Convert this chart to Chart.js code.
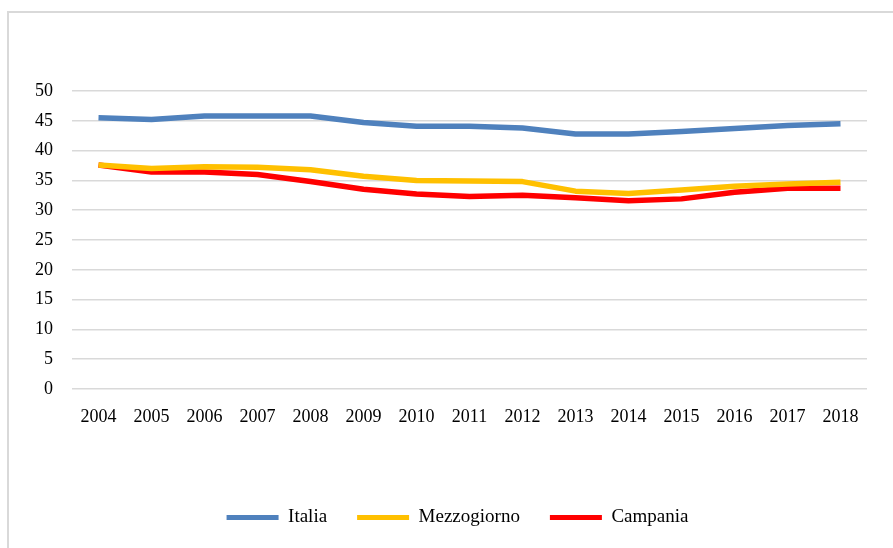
<!DOCTYPE html>
<html>
<head>
<meta charset="utf-8">
<script src="https://cdn.jsdelivr.net/npm/chart.js@4/dist/chart.umd.min.js"></script>
<style>
  html, body { margin: 0; padding: 0; background: #fff; overflow: hidden; }
  #wrap { position: relative; width: 893px; height: 548px; }
  /* cornice grigia del grafico (esce a destra e in basso) */
  #frame {
    position: absolute; left: 7px; top: 11px; width: 1000px; height: 1000px;
    border: 2px solid #D9D9D9; box-sizing: border-box;
  }
  #chart { position: absolute; left: 0; top: 0; }
</style>
</head>
<body>
<div id="wrap">
  <div id="frame"></div>
  <canvas id="chart" width="893" height="548"></canvas>
</div>
<script>
// anni e serie
const anni = ['2004','2005','2006','2007','2008','2009','2010','2011','2012','2013','2014','2015','2016','2017','2018'];
const italia      = [45.5, 45.2, 45.8, 45.8, 45.8, 44.7, 44.1, 44.1, 43.8, 42.8, 42.8, 43.2, 43.7, 44.2, 44.5];
const mezzogiorno = [37.6, 37.0, 37.3, 37.2, 36.8, 35.7, 35.0, 34.9, 34.8, 33.2, 32.8, 33.4, 34.0, 34.4, 34.7];
const campania    = [37.6, 36.4, 36.4, 36.0, 34.8, 33.5, 32.7, 32.3, 32.5, 32.1, 31.6, 31.9, 33.0, 33.7, 33.7];
const yTicks = [0, 5, 10, 15, 20, 25, 30, 35, 40, 45, 50];

const font = { family: '"Liberation Serif", "Times New Roman", serif', size: 18 };

function serie(label, data, color) {
    return {
        label: label,
        data: data,
        borderColor: color,
        backgroundColor: color,
        borderWidth: 5.5,
        pointRadius: 0,
        tension: 0,
        borderJoinStyle: 'round',
        fill: false
    };
}

// sposta un po' a sinistra la legenda
const legendShift = {
    id: 'legendShift',
    afterLayout(chart) {
        chart.legend.left -= 12;
        chart.legend.right -= 12;
    }
};

new Chart(document.getElementById('chart'), {
    type: 'line',
    data: {
        labels: anni,
        datasets: [
            serie('Italia', italia, '#4F81BD'),
            serie('Mezzogiorno', mezzogiorno, '#FFC000'),
            serie('Campania', campania, '#FF0000')
        ]
    },
    plugins: [legendShift],
    options: {
        responsive: false,
        devicePixelRatio: 1,
        animation: false,
        layout: { padding: { top: 91, right: 26, bottom: 11, left: 0 } },
        plugins: {
            tooltip: { enabled: false },
            legend: {
                position: 'bottom',
                fullSize: false,
                labels: {
                    boxWidth: 52,
                    boxHeight: 5,
                    padding: 30,
                    color: '#000',
                    font: { family: font.family, size: 19 },
                    // riquadri pieni, senza il bordo spesso della linea
                    generateLabels: (chart) =>
                        Chart.defaults.plugins.legend.labels.generateLabels(chart)
                            .map(l => Object.assign(l, { lineWidth: 0 }))
                }
            }
        },
        scales: {
            x: {
                offset: true,
                grid: { display: false, drawTicks: false },
                border: { display: false },
                ticks: { color: '#000', font: font, padding: 17, maxRotation: 0, autoSkip: false },
                afterFit: (s) => { s.height = 89; }
            },
            y: {
                min: 0,
                max: 50,
                afterBuildTicks: (s) => { s.ticks = yTicks.map(v => ({ value: v })); },
                grid: { color: '#D9D9D9', lineWidth: 1.5, drawTicks: false },
                border: { display: false },
                ticks: { color: '#000', font: font, padding: 19 },
                afterFit: (s) => { s.width = 72; }
            }
        }
    }
});
</script>
</body>
</html>
